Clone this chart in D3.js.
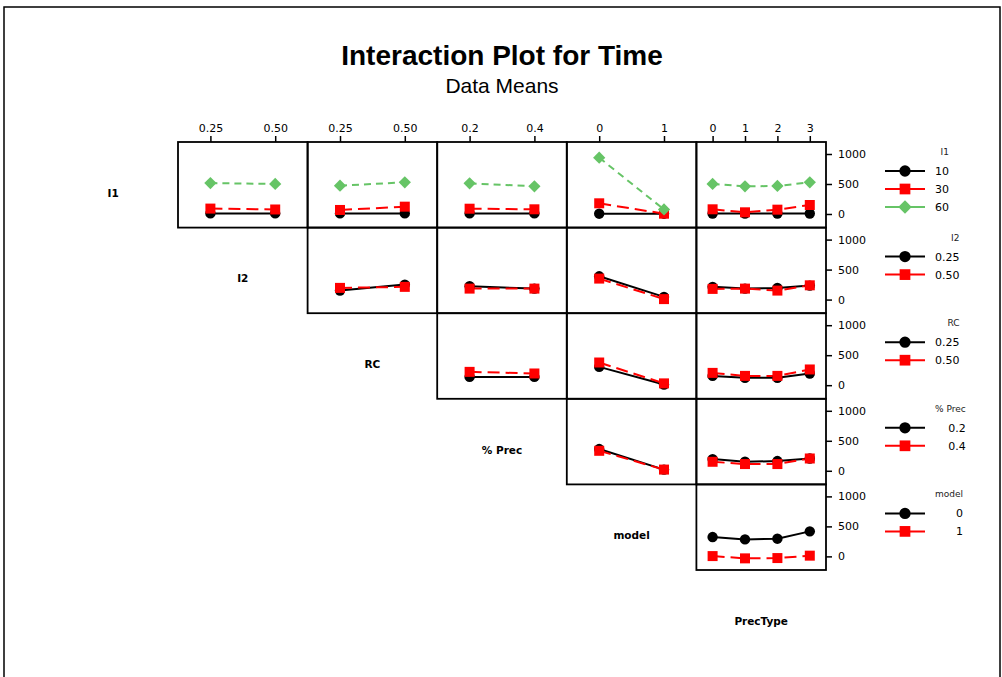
<!DOCTYPE html>
<html>
<head>
<meta charset="utf-8">
<script src="https://cdn.jsdelivr.net/npm/d3@7"></script>
<style>
  html, body { margin: 0; padding: 0; background: #fff; }
  svg { display: block; }
</style>
</head>
<body>
<svg id="chart" width="1002" height="677"></svg>
<script>
// ---------- data ----------
const factors = ["I1", "I2", "RC", "% Prec", "model", "PrecType"];
const levelsI1 = ["10", "30", "60"];
const levelsI2 = ["0.25", "0.50"];
const levelsRC = ["0.25", "0.50"];
const levelsPrec = ["0.2", "0.4"];
const levelsModel = ["0", "1"];
const levelsPrecType = ["0", "1", "2", "3"];
const yTicks = [0, 500, 1000];

// means: rows = trace factor levels, columns = x-factor levels
const I1_by_I2 = [[10, 10], [90, 75], [515, 500]];
const I1_by_RC = [[10, 10], [67, 122], [472, 528]];
const I1_by_Prec = [[10, 10], [88, 78], [511, 461]];
const I1_by_model = [[5, 5], [178, 5], [938, 75]];
const I1_by_PrecType = [[8, 8, 8, 8], [78, 28, 72, 150], [500, 461, 467, 528]];
const I2_by_RC = [[150, 250], [195, 212]];
const I2_by_Prec = [[222, 183], [183, 183]];
const I2_by_model = [[388, 45], [350, 8]];
const I2_by_PrecType = [[212, 183, 195, 233], [178, 183, 150, 238]];
const RC_by_Prec = [[138, 138], [222, 195]];
const RC_by_model = [[305, 10], [378, 30]];
const RC_by_PrecType = [[155, 122, 122, 195], [205, 155, 155, 262]];
const Prec_by_model = [[362, 20], [333, 20]];
const Prec_by_PrecType = [[195, 150, 162, 205], [150, 112, 112, 205]];
const model_by_PrecType = [[322, 283, 295, 417], [5, -33, -28, 12]];

// ---------- assembly ----------
const levels = [levelsI1, levelsI2, levelsRC, levelsPrec, levelsModel, levelsPrecType];
const panelData = {
  "0-1": I1_by_I2, "0-2": I1_by_RC, "0-3": I1_by_Prec, "0-4": I1_by_model, "0-5": I1_by_PrecType,
  "1-2": I2_by_RC, "1-3": I2_by_Prec, "1-4": I2_by_model, "1-5": I2_by_PrecType,
  "2-3": RC_by_Prec, "2-4": RC_by_model, "2-5": RC_by_PrecType,
  "3-4": Prec_by_model, "3-5": Prec_by_PrecType,
  "4-5": model_by_PrecType
};

const seriesColor = ["#000000", "#ff0000", "#66c466"];
const seriesDash = [null, "12,6", "7,5"];
const seriesSymbol = [d3.symbolCircle, d3.symbolSquare, d3.symbolSquare];
const seriesRotate = [0, 0, 45];
const seriesSize = [85, 100, 75];
const legendSize = [100, 115, 90];

const svg = d3.select("#chart");
const FONT = "'DejaVu Sans', Verdana, sans-serif";

// outer frame
svg.append("rect").attr("x", 4).attr("y", 7).attr("width", 996).attr("height", 690)
  .attr("fill", "none").attr("stroke", "#000").attr("stroke-width", 1.5);

// titles
svg.append("text").attr("x", 502).attr("y", 65).attr("text-anchor", "middle")
  .attr("font-family", "'Liberation Sans', Arial, sans-serif").attr("font-weight", "bold")
  .attr("font-size", 28).text("Interaction Plot for Time");
svg.append("text").attr("x", 502).attr("y", 93).attr("text-anchor", "middle")
  .attr("font-family", "'Liberation Sans', Arial, sans-serif")
  .attr("font-size", 21).text("Data Means");

// grid scales
const gx = d3.scaleBand().domain(d3.range(6)).range([48.4, 826]);
const gy = d3.scaleBand().domain(d3.range(6)).range([142, 655.6]);
const cw = gx.bandwidth(), ch = gy.bandwidth();

// diagonal labels
factors.forEach((f, i) => {
  svg.append("text")
    .attr("x", gx(i) + cw / 2).attr("y", gy(i) + ch / 2 + 12)
    .attr("text-anchor", "middle").attr("font-family", FONT)
    .attr("font-weight", "bold").attr("font-size", 10.5).text(f);
});

for (let i = 0; i < 5; i++) {
  const y = d3.scaleLinear().domain([-227, 1200]).range([gy(i) + ch, gy(i)]);
  for (let j = i + 1; j < 6; j++) {
    const g = svg.append("g").attr("transform", `translate(${gx(j)},0)`);
    const x = d3.scalePoint().domain(levels[j]).range([0, cw]).padding(0.5);
    const data = panelData[`${i}-${j}`];

    // top axis for first row
    if (i === 0) {
      const ax = g.append("g").attr("transform", `translate(0,${gy(0)})`)
        .call(d3.axisTop(x).tickSize(6).tickPadding(4));
      ax.select(".domain").remove();
      ax.selectAll("line").attr("stroke-width", 1.5);
      ax.selectAll("text").attr("font-family", FONT).attr("font-size", 11).attr("fill", "#000");
    }
    // right axis for last column
    if (j === 5) {
      const ay = g.append("g").attr("transform", `translate(${cw},0)`)
        .call(d3.axisRight(y).tickValues(yTicks).tickFormat(d3.format("d"))
          .tickSize(6).tickPadding(6));
      ay.select(".domain").remove();
      ay.selectAll("line").attr("stroke-width", 1.5);
      ay.selectAll("text").attr("font-family", FONT).attr("font-size", 11).attr("fill", "#000");
    }

    const line = d3.line().x((d, k) => x(levels[j][k])).y(d => y(d));
    data.forEach((vals, s) => {
      g.append("path").attr("d", line(vals)).attr("fill", "none")
        .attr("stroke", seriesColor[s]).attr("stroke-width", 2)
        .attr("stroke-dasharray", seriesDash[s]);
    });
    data.forEach((vals, s) => {
      const sym = d3.symbol().type(seriesSymbol[s]).size(seriesSize[s]);
      g.selectAll(null).data(vals).enter().append("path")
        .attr("d", sym)
        .attr("transform", (d, k) => `translate(${x(levels[j][k])},${y(d)}) rotate(${seriesRotate[s]})`)
        .attr("fill", seriesColor[s]);
    });

    // panel frame
    g.append("rect").attr("x", 0).attr("y", gy(i)).attr("width", cw).attr("height", ch)
      .attr("fill", "none").attr("stroke", "#000").attr("stroke-width", 1.8);
  }

  // legend for row i
  const lg = svg.append("g");
  const entries = levels[i];
  const texts = [];
  const title = lg.append("text").attr("y", gy(i) + 13).attr("font-family", FONT)
    .attr("font-size", 9).attr("fill", "#222").text(factors[i]);
  texts.push(title);
  entries.forEach((lab, s) => {
    const ey = gy(i) + 29 + 18 * s;
    lg.append("line").attr("x1", 885).attr("x2", 925).attr("y1", ey).attr("y2", ey)
      .attr("stroke", seriesColor[s]).attr("stroke-width", 2);
    lg.append("path").attr("d", d3.symbol().type(seriesSymbol[s]).size(legendSize[s]))
      .attr("transform", `translate(905,${ey}) rotate(${seriesRotate[s]})`)
      .attr("fill", seriesColor[s]);
    texts.push(lg.append("text").attr("y", ey + 4).attr("font-family", FONT)
      .attr("font-size", 11).text(lab));
  });
  const maxW = d3.max(texts, t => t.node().getComputedTextLength());
  const right = 935 + maxW;
  texts.forEach(t => t.attr("x", right).attr("text-anchor", "end"));
}
</script>
</body>
</html>
